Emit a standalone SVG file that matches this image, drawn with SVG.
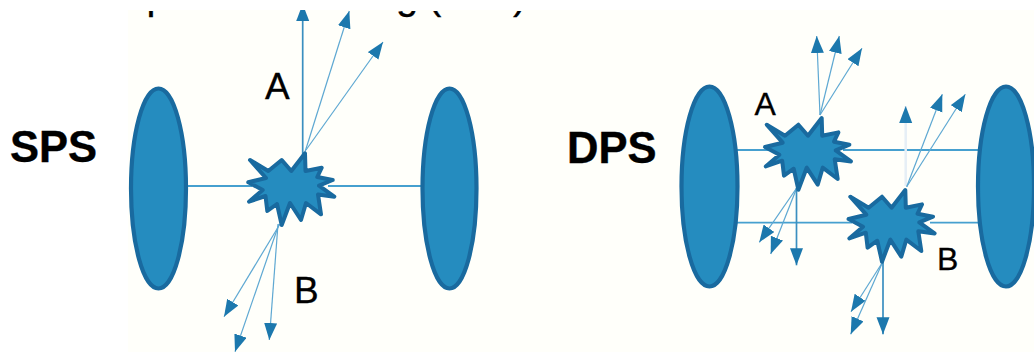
<svg xmlns="http://www.w3.org/2000/svg" width="1034" height="352" viewBox="0 0 1034 352">
  <style>
    .beam { fill: #258cbf; stroke: #196a9f; stroke-width: 4.200; }
    .burst { fill: #258cbf; stroke: #196a9f; stroke-width: 4; stroke-linejoin: round; }
    .link { stroke: #46a0cf; stroke-width: 1.8; fill: none; }
    .jet { stroke: #5ea8d2; stroke-width: 1.2; fill: none; marker-end: url(#head); }
    .jet-strong { stroke: #3a8fc0; stroke-width: 1.7; }
    .jet-faint { stroke: #e6eff6; stroke-width: 2.5; }
    .title { font: bold 43.500px "Liberation Sans", Arial, sans-serif; fill: #000; stroke: #000; stroke-width: 0.4; }
    .tag { font-family: "Liberation Sans", Arial, sans-serif; fill: #000; stroke: #000; stroke-width: 0.3; }
    .heading { font: 40px "Liberation Sans", Arial, sans-serif; fill: #000; stroke: #000; stroke-width: 0.3; }
  </style>
  <defs>
    <marker id="head" markerUnits="userSpaceOnUse" markerWidth="19" markerHeight="15" refX="17" refY="6.500" orient="auto">
      <path d="M0 0 L17 6.500 L0 13 Z" fill="#1c78ad"/>
    </marker>
    <clipPath id="page"><rect x="0" y="10" width="1034" height="342"/></clipPath>
    <clipPath id="heading-edge"><rect x="0" y="11" width="1034" height="20"/></clipPath>
    <polygon id="burst-shape" points="250,160 268.300,171 281.700,160 291.300,171 305,153.300 305.500,171 321.700,167.700 317.300,177 332.700,180 319,185.700 334.300,196.700 318,194.500 321,214.300 306,203 301,220 290,203 281.700,225 277,204 267.300,211 265.500,196 249,201.700 262.700,190 248.300,182.300 266,178"/>
  </defs>

  <rect width="1034" height="352" fill="#ffffff"/>
  <rect x="128" y="10" width="906" height="342" fill="#fffffa"/>

  <!-- heading descenders cut by the slide edge -->
  <g clip-path="url(#heading-edge)">
    <text class="heading" x="146.500" y="8.500">p</text>
    <text class="heading" x="396" y="8.500">g</text>
    <text class="heading" x="428" y="8.500">(</text>
    <text class="heading" x="513" y="8.500">)</text>
  </g>

  <g id="connectors" clip-path="url(#page)">
    <!-- beam lines -->
    <path class="link" d="M186 186H252M328 186H423"/>
    <path class="link" d="M737 150H768M843 150H980"/>
    <path class="link" d="M737 222.700H852M930 222.700H978"/>
    <!-- SPS outgoing jets -->
    <path class="jet jet-strong" d="M302.700 155V4"/>
    <path class="jet" d="M305 152L349.300 11"/>
    <path class="jet" d="M306 150L383 42"/>
    <path class="jet" d="M280 224L224 316.700"/>
    <path class="jet" d="M279 224L235 351.700"/>
    <path class="jet" d="M278 224L269.300 340"/>
    <!-- DPS outgoing jets -->
    <path class="jet" d="M820 115L816.700 36"/>
    <path class="jet" d="M820 115L839.300 36"/>
    <path class="jet" d="M820 115L862 48.300"/>
    <path class="jet jet-faint" d="M905.700 186V106"/>
    <path class="jet" d="M906.700 186.700L942.300 94.300"/>
    <path class="jet" d="M906.700 186.700L965.300 94.300"/>
    <path class="jet" d="M796.700 188L759.300 242.300"/>
    <path class="jet" d="M796.700 188L770.700 254"/>
    <path class="jet jet-strong" d="M796.500 188V265.300"/>
    <path class="jet" d="M882.700 262L851 311.700"/>
    <path class="jet" d="M882.700 262L850.700 334.300"/>
    <path class="jet jet-strong" d="M883 262V334.300"/>
  </g>

  <g id="sps-label"><text class="title" x="10" y="162">SPS</text></g>
  <g id="sps-proton-left"><ellipse class="beam" cx="158.500" cy="188.500" rx="27.500" ry="100"/></g>
  <g id="sps-proton-right"><ellipse class="beam" cx="449.500" cy="188.500" rx="27" ry="100"/></g>
  <g id="sps-burst"><use href="#burst-shape" class="burst"/></g>
  <g id="sps-a"><text class="tag" x="265" y="99" font-size="37">A</text></g>
  <g id="sps-b"><text class="tag" x="294" y="303" font-size="37">B</text></g>

  <g id="dps-label"><text class="title" x="567" y="163">DPS</text></g>
  <g id="dps-proton-left"><ellipse class="beam" cx="709.500" cy="186.500" rx="28" ry="100"/></g>
  <g id="dps-proton-right"><ellipse class="beam" cx="1006" cy="186.500" rx="28" ry="100"/></g>
  <g id="dps-burst-a"><use href="#burst-shape" class="burst" transform="translate(516.700 -35.300)"/></g>
  <g id="dps-burst-b"><use href="#burst-shape" class="burst" transform="translate(600.300 36.700)"/></g>
  <g id="dps-a"><text class="tag" x="754.500" y="115" font-size="32">A</text></g>
  <g id="dps-b"><text class="tag" x="937" y="270" font-size="32">B</text></g>
</svg>
